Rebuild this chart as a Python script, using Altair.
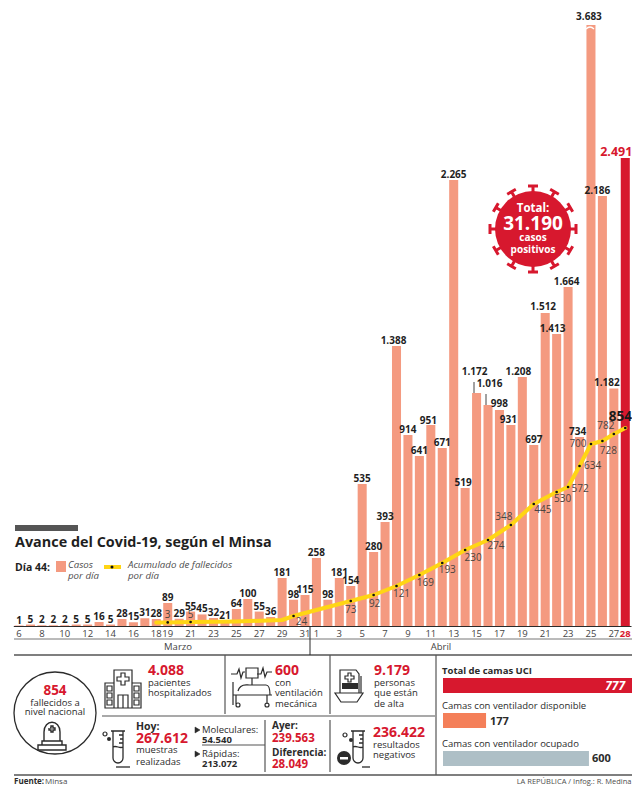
import math
import altair as alt
import pandas as pd

# ---------- data ----------
marzo = list(range(6, 32))
abril = list(range(1, 29))
dias = [f"3-{d}" for d in marzo] + [f"4-{d}" for d in abril]
casos = [1, 5, 2, 2, 2, 5, 5, 16, 5, 28, 15, 31, 28, 89, 29, 55, 45, 32, 21, 64, 100, 55, 36, 181, 98, 115,
         258, 98, 181, 154, 535, 280, 393, 1388, 914, 641, 951, 671, 2265, 519, 1172, 1016, 998, 931, 1208,
         697, 1512, 1413, 1664, 734, 3683, 2186, 1182, 2491]
tick_dias = ["3-6", "3-8", "3-10", "3-12", "3-14", "3-16", "3-18", "3-19", "3-21", "3-23", "3-25", "3-27",
             "3-29", "3-31", "4-1", "4-3", "4-5", "4-7", "4-9", "4-11", "4-13", "4-15", "4-17", "4-19",
             "4-21", "4-23", "4-25", "4-27", "4-28"]
fall_dias = ["3-18", "3-19", "3-21", "3-25", "3-29", "3-30", "4-4", "4-6", "4-8", "4-10", "4-12", "4-14", "4-16",
             "4-18", "4-20", "4-22", "4-23", "4-24", "4-25", "4-26", "4-27", "4-28"]
fallecidos = [2, 3, 5, 9, 18, 24, 73, 92, 121, 169, 193, 230, 274, 348, 445, 530, 572, 634, 700, 728, 782, 854]
no_rotulados = ["3-18", "3-25", "3-29"]
camas_nombre = ["Total de camas UCI", "Camas con ventilador disponible", "Camas con ventilador ocupado"]
camas = [777, 177, 600]

RED = "#D7182E"
BAR = "#F49A80"
YEL = "#FFD514"
DARK = "#2b2b2b"
GRAY = "#4d4d4d"
LINE = "#555555"
FONT = "Open Sans"
OFF = 8
W, H = 624, 778


def es(n):
    return f"{n:,}".replace(",", ".")


df = pd.DataFrame({"dia": dias, "casos": casos, "rot": [es(c) for c in casos]})
dfF = pd.DataFrame({"dia": fall_dias, "f": fallecidos, "rot": [es(c) for c in fallecidos]})

# ---------- scales: the original drawing is not proportional, so the pixel anchors are piecewise ----------
xs = alt.Scale(type="band", domain=dias, range=[5.3, 623.0], paddingInner=0.21, paddingOuter=0.105)
y_anchor = {0: 626, 1: 625.5, 16: 622, 28: 619, 36: 617, 64: 609, 89: 603, 100: 599, 115: 595, 154: 586, 181: 578,
            258: 558, 280: 552, 393: 522, 519: 488, 535: 484, 641: 456, 671: 448, 697: 445, 734: 437, 914: 435,
            931: 425, 951: 425, 998: 410, 1016: 405, 1172: 393, 1208: 377, 1388: 346, 1413: 334, 1512: 313,
            1664: 287, 2186: 196, 2265: 180, 2491: 158, 3683: 25}
ys = alt.Scale(domain=list(y_anchor), range=[v - OFF for v in y_anchor.values()], clamp=False, nice=False, zero=False)
f_anchor = {0: 624, 2: 622.6, 3: 622.4, 5: 622, 9: 621.5, 18: 620, 24: 616, 73: 601, 92: 595, 121: 586, 169: 575,
            193: 563, 230: 550, 274: 540, 348: 525, 445: 504, 530: 492, 572: 487, 634: 466, 700: 444, 728: 441,
            782: 434, 854: 428}
yf = alt.Scale(domain=list(f_anchor), range=[v - OFF for v in f_anchor.values()], nice=False, zero=False)
xc = alt.Scale(domain=[0, 777], range=[443 - OFF, 632 - OFF], nice=False, zero=True)

X = alt.X("dia:N", sort=None, scale=xs, axis=None)
Y = alt.Y("casos:Q", scale=ys, axis=None)
YF = alt.Y("f:Q", scale=yf, axis=None)

one = alt.Data(values=[{"k": 1}])
layers = []


def txt(s, x, y, size=10, weight="normal", color=DARK, align="left", style="normal"):
    layers.append(alt.Chart(one).mark_text(fontSize=size, fontWeight=weight, font=FONT, color=color, align=align,
                                           baseline="middle", fontStyle=style)
                  .encode(x=alt.value(x - OFF), y=alt.value(y - OFF), text=alt.value(s)))


def rect(x0, y0, x1, y1, color):
    layers.append(alt.Chart(one).mark_rect(color=color).encode(
        x=alt.value(x0 - OFF), x2=alt.value(x1 - OFF), y=alt.value(y0 - OFF), y2=alt.value(y1 - OFF)))


def rule(x0, y0, x1, y1, color=LINE, w=1.2):
    layers.append(alt.Chart(one).mark_rule(color=color, strokeWidth=w).encode(
        x=alt.value(x0 - OFF), x2=alt.value(x1 - OFF), y=alt.value(y0 - OFF), y2=alt.value(y1 - OFF)))


def icon(path, x, y, stroke=DARK, fill="transparent", w=1.2, scale=1.0):
    layers.append(alt.Chart(one).mark_point(shape=path, size=4 * scale * scale, stroke=stroke, fill=fill,
                                            strokeWidth=w, opacity=1, fillOpacity=1)
                  .encode(x=alt.value(x - OFF), y=alt.value(y - OFF)))


def disc(x, y, d, stroke=DARK, fill="white", w=1.2):
    layers.append(alt.Chart(one).mark_point(shape="circle", size=d * d, stroke=stroke, fill=fill,
                                            strokeWidth=w, opacity=1, fillOpacity=1)
                  .encode(x=alt.value(x - OFF), y=alt.value(y - OFF)))


# ---------- bars with the real axis ----------
red_test = "datum.value == '4-28'"
axis = alt.Axis(values=tick_dias, labelExpr="split(datum.value, '-')[1]", title=None, grid=False, ticks=False,
                offset=618 - H, domainColor=DARK, domainWidth=1.2, labelFont=FONT, labelFontSize=9.5,
                labelColor={"condition": {"test": red_test, "value": RED}, "value": "#444444"},
                labelFontWeight={"condition": {"test": red_test, "value": "bold"}, "value": "normal"},
                labelAngle=0, labelPadding=2, labelOverlap=False, labelBound=False, labelFlush=False)
layers.append(alt.Chart(df).mark_bar(stroke=None).encode(
    x=alt.X("dia:N", sort=None, scale=xs, axis=axis), y=Y,
    color=alt.condition("datum.dia == '4-28'", alt.value(RED), alt.value(BAR))))

# ---------- value labels ----------
shift = {"4-15": (-2, -16), "4-16": (1.5, -16), "4-26": (-5, 0), "4-25": (-2, -3), "4-28": (-9, -1), "4-27": (-7, -1),
         "4-22": (-4, 0), "4-21": (-2, -1), "4-23": (-1.5, 0), "4-8": (-3, 0), "4-19": (-4, 0), "4-18": (-2.5, 0),
         "4-11": (-2.5, 1), "4-24": (-2, 0), "4-17": (0, -1), "4-14": (-2, 0)}
base = df[~df.dia.isin(shift)]
layers.append(alt.Chart(base).mark_text(fontSize=10, fontWeight="bold", font=FONT, color="#1f1f1f", baseline="middle", dy=-5)
              .encode(x=X, y=Y, text="rot:N"))
for d, (dx, dy) in shift.items():
    red = d == "4-28"
    layers.append(alt.Chart(df[df.dia == d]).mark_text(fontSize=12.5 if red else 10, fontWeight="bold", font=FONT,
                                                       color=RED if red else "#1f1f1f", baseline="middle",
                                                       dx=dx, dy=-5 + dy)
                  .encode(x=X, y=Y, text="rot:N"))
rule(474, 382, 474, 393, "#444444", 1)
rule(486, 394, 486, 405, "#444444", 1)
icon("M-4,2 Q0,-2 4,2", 590, 27, stroke="white", w=1.2)

# ---------- deaths line ----------
layers.append(alt.Chart(dfF).mark_line(color=YEL, strokeWidth=4, strokeJoin="round", strokeCap="round")
              .encode(x=X, y=YF))
dots = dfF[~dfF.dia.isin(no_rotulados)]
layers.append(alt.Chart(dots).mark_point(filled=True, color="#111111", size=7, opacity=1).encode(x=X, y=YF))
off = {"3-19": (0, -7), "3-21": (0, -7), "3-30": (8, 6), "4-4": (0, 9), "4-6": (1, 9), "4-8": (5, 8), "4-10": (6, 8),
       "4-12": (5, 7), "4-14": (8, 8), "4-16": (8, 6), "4-18": (-7, -8), "4-20": (9, 6), "4-22": (6, 7),
       "4-23": (12, 2), "4-24": (13, 0), "4-25": (-13, 0), "4-26": (6, 10), "4-27": (-8, -8)}
for d, (dx, dy) in off.items():
    layers.append(alt.Chart(dfF[dfF.dia == d]).mark_text(fontSize=10, font=FONT, color="#4a4440", baseline="middle",
                                                         dx=dx, dy=dy).encode(x=X, y=YF, text="rot:N"))
layers.append(alt.Chart(dfF[dfF.dia == "4-28"]).mark_text(fontSize=13.5, fontWeight="bold", font=FONT, color="#1a1a1a",
                                                          baseline="middle", dx=-5, dy=-11).encode(x=X, y=YF, text="rot:N"))

# ---------- virus badge ----------
vp = ""
for i in range(12):
    a = i * math.pi / 6
    c, s = math.cos(a), math.sin(a)
    vp += f"M{33*c:.1f},{33*s:.1f}L{43*c:.1f},{43*s:.1f}M{43*c-5*s:.1f},{43*s+5*c:.1f}L{43*c+5*s:.1f},{43*s-5*c:.1f}"
icon(vp, 533, 229, stroke=RED, w=3)
disc(533, 229, 76, stroke=RED, fill=RED, w=0)
txt("Total:", 533, 209, 11.5, "bold", "white", "center")
txt("31.190", 533, 224, 19, "bold", "white", "center")
txt("casos", 533, 238, 10, "bold", "white", "center")
txt("positivos", 533, 250, 10, "bold", "white", "center")

# ---------- title and legend ----------
rect(15, 525, 78, 531, "#555555")
txt("Avance del Covid-19, según el Minsa", 15, 543, 14.4, "bold", "#1f1f1f")
txt("Día 44:", 15, 568, 10.5, "bold", "#1f1f1f")
rect(56, 561, 66, 572, BAR)
txt("Casos", 68, 565, 9.7, "normal", GRAY, style="italic")
txt("por día", 68, 576, 9.7, "normal", GRAY, style="italic")
rule(104, 567, 121, 567, YEL, 4)
disc(112, 567, 3, stroke="#111111", fill="#111111", w=0)
txt("Acumulado de fallecidos", 128, 565, 9.7, "normal", GRAY, style="italic")
txt("por día", 128, 576, 9.7, "normal", GRAY, style="italic")

# ---------- month band and separators ----------
rule(14, 639, 632, 639, "#777777", 1)
rule(14, 655, 632, 655, LINE, 1.4)
rule(310, 626, 310, 655, DARK, 1)
txt("Marzo", 178, 647, 9.5, "normal", "#444444", "center")
txt("Abril", 441, 647, 9.5, "normal", "#444444", "center")
rule(225, 655, 225, 714, LINE, 1.2)
rule(330, 655, 330, 714, LINE, 1.2)
rule(330, 720, 330, 772, LINE, 1.2)
rule(436, 655, 436, 775, LINE, 1.2)
rule(102, 716, 435, 716, LINE, 1.2)
rule(265, 720, 265, 772, LINE, 1.2)
rule(202, 745, 265, 745, LINE, 1.2)
rule(14, 775, 632, 775, LINE, 1.5)

# ---------- left circle ----------
disc(55, 713, 82, stroke=DARK, fill="white", w=1.3)
txt("854", 55, 691, 13.5, "bold", RED, "center")
txt("fallecidos a", 55, 703, 9.5, "normal", DARK, "center")
txt("nivel nacional", 55, 712, 9.5, "normal", DARK, "center")
icon("M-14,14 H14 V9 H-14 Z M-10,9 V5 H10 V9 M-8,5 V-4 C-8,-17 8,-17 8,-4 V5 M-2,-8 H-1 V-10 H1 V-8 H3 V-6 H1 V-4 H-1 V-6 H-3 V-8",
     52, 736, w=1.4)

# ---------- panels ----------
icon("M-9,19 V-19 H9 V19 M-9,-6 H-18 V19 H18 V-6 H9 M-2,-16 h4 v4 h4 v4 h-4 v4 h-4 v-4 h-4 v-4 h4 z "
     "M-5,19 V6 H5 V19 M0,6 V19 M-16,-3 h5 v5 h-5 z M-16,4 h5 v5 h-5 z M-16,11 h5 v5 h-5 z "
     "M11,-3 h5 v5 h-5 z M11,4 h5 v5 h-5 z M11,11 h5 v5 h-5 z", 123, 689, w=1.2)
txt("4.088", 148, 671, 14, "bold", RED)
txt("pacientes", 148, 683, 9.5)
txt("hospitalizados", 148, 693, 9.5)

icon("M-21,-16 H-15 l2,-5 l2,9 l2,-6 h2 M5,-16 H9 l2,-6 l2,9 l2,-5 H20 M-6,-22 h12 v10 h-12 z M0,-12 V-5 "
     "M-19,-8 V15 M-19,5 H20 M-16,5 V14 M15,5 V14 M-14,1 C-12,-7 -5,-5 -3,-5 H14 C18,-5 18,1 18,5 M-16,15 a2,2 0 1 0 4,0 a2,2 0 1 0 -4,0 "
     "M13,15 a2,2 0 1 0 4,0 a2,2 0 1 0 -4,0", 252, 690, w=1.2)
txt("600", 275, 671, 14, "bold", RED)
txt("con", 275, 683, 9.5)
txt("ventilación", 275, 693, 9.5)
txt("mecánica", 275, 704, 9.5)

icon("M-14,7 H14 L8,16 H-8 Z M-9,7 V-16 H7 L10,-12 V7 M12,-10 V7 M-1,-13 h3 v3 h3 v3 h-3 v3 h-3 v-3 h-3 v-3 h3 z", 349, 686, w=1.2)
rect(342, 683, 358, 689, DARK)
txt("9.179", 374, 671, 14, "bold", RED)
txt("personas", 374, 683, 9.5)
txt("que están", 374, 693, 9.5)
txt("de alta", 374, 704, 9.5)

TUBO = "M-7,-16 H7 M-5,-16 V11 A5,5 0 0 0 5,11 V-16 M-5,0 C-2,-2 2,2 5,0 M1,-12 H5 M2,-8 H5 M1,-4 H5"
icon(TUBO, 358, 747, w=1.3)
rule(362, 767, 370, 767, DARK, 1.3)
disc(344, 758, 14, stroke=DARK, fill=DARK, w=0)
rect(340, 757, 348, 759.5, "white")
disc(345, 735, 4, fill="white")
disc(351, 740, 4, stroke=DARK, fill=DARK, w=0)
txt("236.422", 373, 733, 14, "bold", RED)
txt("resultados", 373, 745, 9.5)
txt("negativos", 373, 755, 9.5)

icon(TUBO, 118, 747, w=1.3)
rule(116, 767, 130, 767, DARK, 1.3)
disc(105, 734, 4, fill="white")
disc(109, 739, 4, stroke=DARK, fill=DARK, w=0)
txt("Hoy:", 136, 727, 10.5, "bold")
txt("267.612", 136, 739, 14, "bold", RED)
txt("muestras", 136, 750, 9.5)
txt("realizadas", 136, 762, 9.5)

icon("M-2,-3 L3,0 L-2,3 Z", 197, 730, stroke=DARK, fill=DARK, w=0.5)
txt("Moleculares:", 202, 730, 9.5)
txt("54.540", 202, 740, 9.5, "bold")
icon("M-2,-3 L3,0 L-2,3 Z", 197, 754, stroke=DARK, fill=DARK, w=0.5)
txt("Rápidas:", 202, 754, 9.5)
txt("213.072", 202, 764, 9.5, "bold")

txt("Ayer:", 272, 726, 10, "bold")
txt("239.563", 272, 739, 11.5, "bold", RED)
txt("Diferencia:", 272, 753, 10, "bold")
txt("28.049", 272, 765, 11.5, "bold", RED)

# ---------- UCI beds ----------
camas_color = [RED, "#F47F59", "#AEBFC6"]
camas_y = [(678, 693), (713, 728), (751, 766)]
txt(camas_nombre[0], 442, 671, 9.5, "bold")
txt(camas_nombre[1], 442, 706, 9.5)
txt(camas_nombre[2], 442, 744, 9.5)
for n, v, col, (y0, y1) in zip(camas_nombre, camas, camas_color, camas_y):
    layers.append(alt.Chart(pd.DataFrame({"n": [n], "v": [v]})).mark_bar(color=col, orient="horizontal")
                  .encode(x=alt.X("v:Q", scale=xc, axis=None), y=alt.value(y0 - OFF), y2=alt.value(y1 - OFF)))
txt("777", 625, 686, 12, "bold", "white", "right", "italic")
txt("177", 490, 722, 11, "bold")
txt("600", 592, 759, 11, "bold")

# ---------- footer ----------
txt("Fuente:", 14, 782, 8, "bold")
txt("Minsa", 45, 782, 8, "normal", GRAY)
txt("LA REPÚBLICA / Infog.: R. Medina", 631.5, 782, 7.5, "normal", GRAY, "right")

chart = (alt.layer(*layers)
         .resolve_scale(x="independent", y="independent")
         .properties(width=W, height=H, padding=0, autosize=alt.AutoSizeParams(type="none"))
         .configure_view(stroke=None))
chart.save("out.html", embed_options={"renderer": "svg", "actions": False})
